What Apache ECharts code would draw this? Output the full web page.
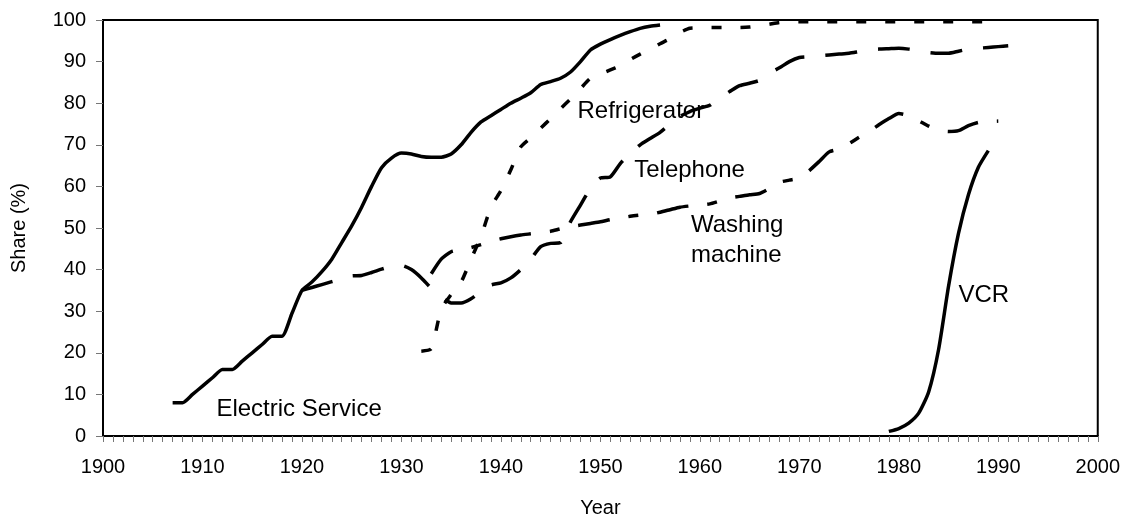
<!DOCTYPE html>
<html>
<head>
<meta charset="utf-8">
<script src="https://cdn.jsdelivr.net/npm/echarts@6/dist/echarts.min.js"></script>
<style>
  html, body { margin: 0; padding: 0; background: #fff; }
  #main { width: 1123px; height: 523px; }
</style>
</head>
<body>
<div id="main"></div>
<script>
// share of households (%) by year
var elecYears = [1907, 1908, 1909, 1910, 1911, 1912, 1913, 1914, 1915, 1916, 1917, 1918, 1919, 1920, 1921, 1922, 1923, 1924, 1925, 1926,
    1927, 1928, 1929, 1930, 1931, 1932, 1933, 1934, 1935, 1936, 1937, 1938, 1939, 1940, 1941, 1942, 1943, 1944, 1945, 1946,
    1947, 1948, 1949, 1950, 1951, 1952, 1953, 1954, 1955, 1956];
var elecShare = [8, 8, 10, 12, 14, 16, 16, 18, 20, 22, 24, 24, 29.5, 35, 37, 39.5, 42.5, 46.5, 50.5, 55,
    60, 64.5, 66.8, 68, 67.8, 67.2, 67, 67, 67.8, 70, 73, 75.5, 77, 78.5, 80, 81.2, 82.5, 84.5, 85.2, 86,
    87.5, 90, 92.8, 94.2, 95.3, 96.3, 97.2, 98, 98.5, 98.8];

var fridgeYears = [1932, 1933, 1934, 1935, 1936, 1937, 1938, 1939, 1940, 1941, 1942, 1943, 1944, 1945, 1946, 1947, 1948, 1949, 1950,
    1951, 1952, 1953, 1954, 1955, 1956, 1957, 1958, 1959, 1960, 1961, 1962, 1963, 1964, 1965, 1966, 1967, 1968, 1969, 1970,
    1971, 1972, 1973, 1974, 1975, 1976, 1977, 1978, 1979, 1980, 1981, 1982, 1983, 1984, 1985, 1986, 1987, 1988, 1989, 1990];
var fridgeShare = [20.4, 21, 30.5, 34, 37, 42.5, 48, 55, 59, 64, 69.5, 71.7, 74, 76.3, 78.7, 81, 83.5, 86, 87,
    88, 89, 90.5, 91.8, 93, 94.3, 95.5, 97, 98, 98.1, 98.2, 98.2, 98.2, 98.2, 98.3, 98.6, 99, 99.4, 99.6, 99.6,
    99.6, 99.6, 99.6, 99.6, 99.6, 99.6, 99.6, 99.6, 99.6, 99.6, 99.6, 99.6, 99.6, 99.6, 99.6, 99.6, 99.6, 99.6, 99.6, 99.6];

var phoneYears = [1920, 1921, 1922, 1923, 1924, 1925, 1926, 1927, 1928, 1929, 1930, 1931, 1932, 1933, 1934, 1935, 1936, 1937, 1938,
    1939, 1940, 1941, 1942, 1943, 1944, 1945, 1946, 1947, 1948, 1949, 1950, 1951, 1952, 1953, 1954, 1955, 1956, 1957, 1958,
    1959, 1960, 1961, 1962, 1963, 1964, 1965, 1966, 1967, 1968, 1969, 1970, 1971, 1972, 1973, 1974, 1975, 1976, 1977, 1978,
    1979, 1980, 1981, 1982, 1983, 1984, 1985, 1986, 1987, 1988, 1989, 1990, 1991];
var phoneShare = [35, 35.7, 36.4, 37.1, 37.8, 38.5, 38.6, 39.3, 40.1, 40.8, 41, 40, 38, 35.5, 33.5, 32, 32, 33, 34.8,
    36.3, 36.8, 38, 40, 42.5, 45.5, 46.3, 46.5, 51.5, 55.5, 59.5, 62, 62.3, 65.5, 68, 70, 71.5, 73, 75, 76.8,
    78, 78.8, 79.5, 81.3, 82.8, 84.2, 84.8, 85.5, 87.2, 88.5, 90, 91, 91.2, 91.4, 91.6, 91.8, 92, 92.4, 92.8, 93,
    93.1, 93.2, 93, 92.6, 92.2, 92, 92, 92.5, 93, 93.2, 93.4, 93.6, 93.8];

var washYears = [1933, 1934, 1935, 1936, 1937, 1938, 1939, 1940, 1941, 1942, 1943, 1944, 1945, 1946, 1947, 1948, 1949, 1950,
    1951, 1952, 1953, 1954, 1955, 1956, 1957, 1958, 1959, 1960, 1961, 1962, 1963, 1964, 1965, 1966, 1967, 1968, 1969, 1970,
    1971, 1972, 1973, 1974, 1975, 1976, 1977, 1978, 1979, 1980, 1981, 1982, 1983, 1984, 1985, 1986, 1987, 1988, 1989, 1990];
var washShare = [39, 42.5, 44.3, 44.8, 45.3, 46, 46.8, 47.4, 47.9, 48.3, 48.6, 48.9, 49.2, 49.8, 50.3, 50.7, 51.1, 51.5,
    52, 52.4, 52.8, 53.1, 53.3, 53.8, 54.4, 55, 55.3, 55.5, 55.8, 56.5, 57.2, 57.6, 58, 58.3, 59.5, 61, 61.5, 62,
    63.8, 66, 68.3, 69, 70.3, 71.8, 73.2, 74.8, 76.3, 77.5, 77, 75.8, 74.5, 73.5, 73.2, 73.4, 74.6, 75.4, 75.6, 75.7];

var vcrYears = [1979, 1980, 1981, 1982, 1983, 1984, 1985, 1986, 1987, 1988, 1989];
var vcrShare = [1.1, 1.8, 3.1, 5.5, 10.6, 20.8, 36, 48.7, 58, 64.6, 68.6];

var yearTicks = { min: 1900, max: 2000, step: 10 };
var shareTicks = { min: 0, max: 100, step: 10 };

function pairs(xs, ys) {
    var out = [];
    for (var i = 0; i < xs.length; i++) out.push([xs[i], ys[i]]);
    return out;
}

var font = 'Liberation Sans, Arial, sans-serif';

// text placed next to each curve, in data coordinates
function tag(text, year, share) {
    return {
        symbol: 'circle',
        symbolSize: 0,
        silent: true,
        label: {
            show: true,
            position: [0, 0],
            align: 'left',
            verticalAlign: 'middle',
            color: '#000',
            fontSize: 24,
            lineHeight: 30,
            fontFamily: font,
            formatter: text
        },
        data: [{ coord: [year, share] }]
    };
}

function line(name, data, dash, label) {
    return {
        name: name,
        type: 'line',
        data: data,
        showSymbol: false,
        smooth: 0.2,
        clip: false,
        lineStyle: { color: '#000', width: 3.5, type: dash, cap: 'butt', join: 'round' },
        markPoint: label
    };
}

var myChart = echarts.init(document.getElementById('main'));

var option = {
    animation: false,
    backgroundColor: '#fff',
    textStyle: { fontFamily: font },
    grid: {
        left: 103, right: 18, top: 20, bottom: 87,
        show: true, borderColor: '#000', borderWidth: 2
    },
    xAxis: {
        type: 'value',
        min: yearTicks.min, max: yearTicks.max, interval: yearTicks.step,
        name: 'Year',
        nameLocation: 'middle',
        nameGap: 62,
        nameTextStyle: { color: '#000', fontSize: 20, fontFamily: font },
        axisLine: { lineStyle: { color: '#000', width: 2 } },
        axisTick: { show: true, length: 6, lineStyle: { color: '#777' } },
        minorTick: { show: true, splitNumber: 10, length: 6, lineStyle: { color: '#777' } },
        splitLine: { show: false },
        axisLabel: {
            color: '#000', fontSize: 20, fontFamily: font, margin: 21,
            formatter: function (v) { return String(v); }
        }
    },
    yAxis: {
        type: 'value',
        min: shareTicks.min, max: shareTicks.max, interval: shareTicks.step,
        name: 'Share (%)',
        nameLocation: 'middle',
        nameGap: 74,
        nameRotate: 90,
        nameTextStyle: { color: '#000', fontSize: 20, fontFamily: font },
        axisLine: { show: true, lineStyle: { color: '#000', width: 2 } },
        axisTick: { show: true, length: 7, lineStyle: { color: '#777' } },
        splitLine: { show: false },
        axisLabel: { color: '#000', fontSize: 20, fontFamily: font, margin: 17 }
    },
    series: [
        line('Electric Service', pairs(elecYears, elecShare), 'solid', tag('Electric Service', 1911.4, 6.3)),
        line('Refrigerator', pairs(fridgeYears, fridgeShare), [10, 19], tag('Refrigerator', 1947.7, 78)),
        line('Telephone', pairs(phoneYears, phoneShare), [32, 21], tag('Telephone', 1953.4, 63.9)),
        line('Washing machine', pairs(washYears, washShare), [32, 19, 10, 19], tag('Washing\nmachine', 1959.1, 47.1)),
        line('VCR', pairs(vcrYears, vcrShare), 'solid', tag('VCR', 1986, 33.9))
    ]
};

myChart.setOption(option);
</script>
</body>
</html>
